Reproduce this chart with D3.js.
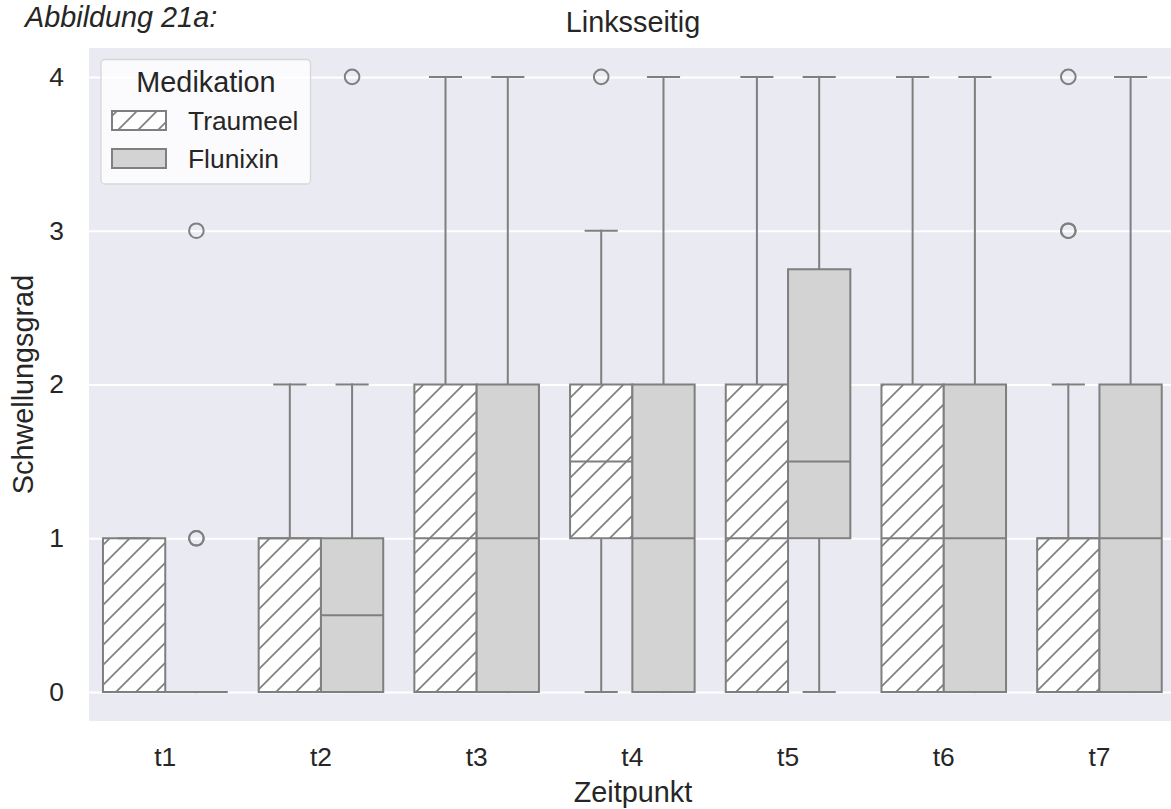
<!DOCTYPE html>
<html>
<head>
<meta charset="utf-8">
<script src="https://cdn.jsdelivr.net/npm/d3@7"></script>
<style>
  html, body { margin: 0; padding: 0; background: #ffffff; }
  svg { display: block; }
  text { font-family: "Liberation Sans", Arial, Helvetica, sans-serif; fill: #262626; }
</style>
</head>
<body>
<svg id="chart" width="1171" height="809"></svg>
<script>
// Time points and treatment groups
const categories = ["t1", "t2", "t3", "t4", "t5", "t6", "t7"];
const groups = ["Traumeel", "Flunixin"];
const yTicks = [0, 1, 2, 3, 4];

// Box statistics per time point: Traumeel
const traumeelQ1      = [0, 0, 0, 1,   0, 0, 0];
const traumeelMedian  = [0, 1, 1, 1.5, 1, 1, 1];
const traumeelQ3      = [1, 1, 2, 2,   2, 2, 1];
const traumeelWhiskLo = [0, 0, 0, 0,   0, 0, 0];
const traumeelWhiskHi = [1, 2, 4, 3,   4, 4, 2];
const traumeelFliers  = [[], [], [], [4], [], [], [3, 3, 4]];

// Box statistics per time point: Flunixin
const flunixinQ1      = [0, 0,   0, 0, 1,    0, 0];
const flunixinMedian  = [0, 0.5, 1, 1, 1.5,  1, 1];
const flunixinQ3      = [0, 1,   2, 2, 2.75, 2, 2];
const flunixinWhiskLo = [0, 0,   0, 0, 0,    0, 0];
const flunixinWhiskHi = [0, 2,   4, 4, 4,    4, 4];
const flunixinFliers  = [[1, 1, 3], [4], [], [], [], [], []];

const series = [
  { name: "Traumeel", q1: traumeelQ1, med: traumeelMedian, q3: traumeelQ3, lo: traumeelWhiskLo, hi: traumeelWhiskHi, fliers: traumeelFliers },
  { name: "Flunixin", q1: flunixinQ1, med: flunixinMedian, q3: flunixinQ3, lo: flunixinWhiskLo, hi: flunixinWhiskHi, fliers: flunixinFliers }
];

const svg = d3.select("#chart");
const plot = { left: 89, top: 48, right: 1178, bottom: 721 };
const lineColor = "#7f7f7f";

// Hatch pattern for the Traumeel boxes
const defs = svg.append("defs");
const pat = defs.append("pattern")
  .attr("id", "hatch")
  .attr("patternUnits", "userSpaceOnUse")
  .attr("width", 20).attr("height", 20)
  .attr("patternTransform", "translate(8,0)");
pat.append("rect").attr("width", 20).attr("height", 20).attr("fill", "#ffffff");
[[-5, 25, 25, -5], [-5, 5, 5, -5], [15, 25, 25, 15]].forEach(([x1, y1, x2, y2]) => {
  pat.append("line").attr("x1", x1).attr("y1", y1).attr("x2", x2).attr("y2", y2)
    .attr("stroke", lineColor).attr("stroke-width", 1.7);
});
const fills = { Traumeel: "url(#hatch)", Flunixin: "#d3d3d3" };

// Scales
const x = d3.scaleBand().domain(categories).range([87.4, 1177.3]).padding(0);
const xGroup = d3.scaleBand().domain(groups).range([0, x.bandwidth() * 0.8]).padding(0);
const y = d3.scaleLinear().domain([-0.188, 4.188]).range([plot.bottom, plot.top]);

// Plot background
svg.append("rect")
  .attr("x", plot.left).attr("y", plot.top)
  .attr("width", plot.right - plot.left).attr("height", plot.bottom - plot.top)
  .attr("fill", "#eaeaf2");

// Horizontal grid and y tick labels
const yAxisG = svg.append("g").attr("transform", `translate(${plot.left},0)`)
  .call(d3.axisLeft(y).tickValues(yTicks).tickSize(-(plot.right - plot.left)).tickPadding(25).tickFormat(d3.format("d")));
yAxisG.select(".domain").remove();
yAxisG.selectAll(".tick line").attr("stroke", "#ffffff").attr("stroke-width", 2);
yAxisG.selectAll(".tick text")
  .attr("font-size", 26.4).attr("fill", "#262626")
  .style("font-family", "'Liberation Sans', Arial, sans-serif");

// X tick labels
const xAxisG = svg.append("g").attr("transform", `translate(0,${plot.bottom})`)
  .call(d3.axisBottom(x).tickSize(0).tickPadding(26));
xAxisG.select(".domain").remove();
xAxisG.selectAll(".tick text")
  .attr("font-size", 26.4).attr("fill", "#262626")
  .style("font-family", "'Liberation Sans', Arial, sans-serif");

// Boxes, whiskers, caps, medians and outliers
const boxes = svg.append("g");
categories.forEach((cat, i) => {
  const x0 = x(cat) + x.bandwidth() * 0.1;
  series.forEach(s => {
    const bx = x0 + xGroup(s.name);
    const bw = xGroup.bandwidth();
    const cx = bx + bw / 2;
    const g = boxes.append("g");
    [[s.q1[i], s.lo[i]], [s.q3[i], s.hi[i]]].forEach(([a, b]) => {
      g.append("line").attr("x1", cx).attr("x2", cx).attr("y1", y(a)).attr("y2", y(b))
        .attr("stroke", lineColor).attr("stroke-width", 2).attr("stroke-linecap", "square");
    });
    const top = y(s.q3[i]), bot = y(s.q1[i]);
    g.append("path")
      .attr("d", `M${bx},${bot}L${bx + bw},${bot}L${bx + bw},${top}L${bx},${top}Z`)
      .attr("fill", fills[s.name]).attr("stroke", lineColor).attr("stroke-width", 2)
      .attr("stroke-linejoin", "miter");
    [s.lo[i], s.hi[i]].forEach(v => {
      g.append("line").attr("x1", cx - bw / 4).attr("x2", cx + bw / 4).attr("y1", y(v)).attr("y2", y(v))
        .attr("stroke", lineColor).attr("stroke-width", 2).attr("stroke-linecap", "square");
    });
    g.append("line").attr("x1", bx).attr("x2", bx + bw).attr("y1", y(s.med[i])).attr("y2", y(s.med[i]))
      .attr("stroke", lineColor).attr("stroke-width", 2);
    s.fliers[i].forEach(v => {
      g.append("circle").attr("cx", cx).attr("cy", y(v)).attr("r", 7.3)
        .attr("fill", "none").attr("stroke", lineColor).attr("stroke-width", 2);
    });
  });
});

// Legend
const lg = svg.append("g");
lg.append("rect").attr("x", 101).attr("y", 59.5).attr("width", 209.5).attr("height", 124.5)
  .attr("rx", 4).attr("fill", "#ffffff").attr("fill-opacity", 0.8)
  .attr("stroke", "#d6d6d6").attr("stroke-width", 1.3);
lg.append("text").attr("x", 206).attr("y", 92).attr("text-anchor", "middle")
  .attr("font-size", 28.8).text("Medikation");
groups.forEach((name, k) => {
  const py = 111 + k * 38;
  lg.append("rect").attr("x", 112).attr("y", py).attr("width", 54).attr("height", 19)
    .attr("fill", fills[name]).attr("stroke", lineColor).attr("stroke-width", 2);
  lg.append("text").attr("x", 188).attr("y", py + 18.5).attr("font-size", 26.4).text(name);
});

// Titles and axis labels
svg.append("text").attr("x", 633).attr("y", 32).attr("text-anchor", "middle")
  .attr("font-size", 28.8).text("Linksseitig");
svg.append("text").attr("x", 633).attr("y", 801.5).attr("text-anchor", "middle")
  .attr("font-size", 28.8).text("Zeitpunkt");
svg.append("text").attr("transform", `translate(33,${(plot.top + plot.bottom) / 2}) rotate(-90)`)
  .attr("text-anchor", "middle").attr("font-size", 28.8).text("Schwellungsgrad");
svg.append("text").attr("x", 25).attr("y", 27).attr("font-size", 28.8)
  .attr("font-style", "italic").text("Abbildung 21a:");
</script>
</body>
</html>
